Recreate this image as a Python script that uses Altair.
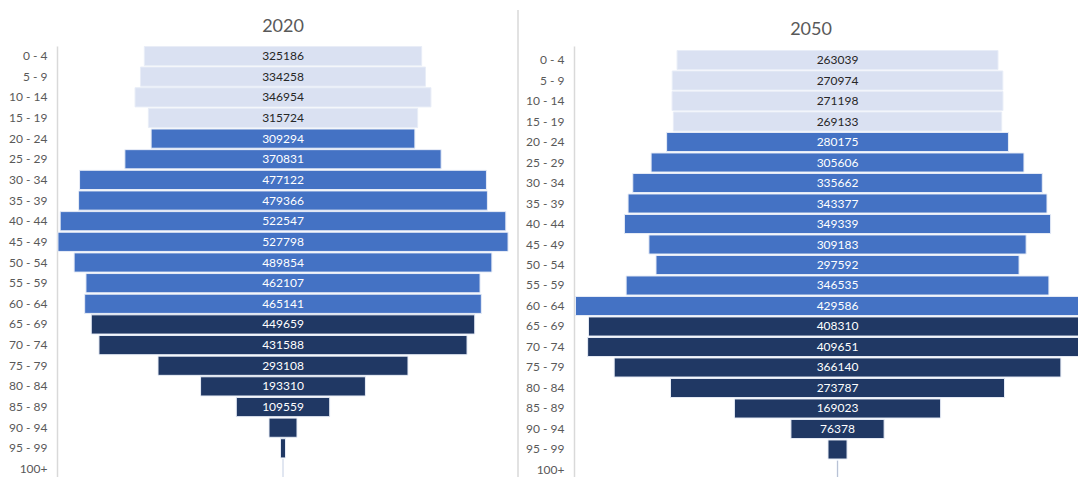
import altair as alt
import pandas as pd

ages = ["0 - 4", "5 - 9", "10 - 14", "15 - 19", "20 - 24", "25 - 29", "30 - 34",
        "35 - 39", "40 - 44", "45 - 49", "50 - 54", "55 - 59", "60 - 64", "65 - 69",
        "70 - 74", "75 - 79", "80 - 84", "85 - 89", "90 - 94", "95 - 99", "100+"]
pop_2020 = [325186, 334258, 346954, 315724, 309294, 370831, 477122, 479366, 522547,
            527798, 489854, 462107, 465141, 449659, 431588, 293108, 193310, 109559,
            32800, 5900, 900]
pop_2050 = [263039, 270974, 271198, 269133, 280175, 305606, 335662, 343377, 349339,
            309183, 297592, 346535, 429586, 408310, 409651, 366140, 273787, 169023,
            76378, 15600, 800]
groups = ["0-19"] * 4 + ["20-64"] * 9 + ["65+"] * 8
group_names = ["0-19", "20-64", "65+"]
group_colors = ["#DAE1F2", "#4472C4", "#203864"]

FONT = "Lato"


def panel(year, values, width, height, domain, pad_outer, title_offset, title_dx):
    df = pd.DataFrame({"age": ages, "value": values, "group": groups})
    base = alt.Chart(df).transform_calculate(lo="-datum.value/2", hi="datum.value/2")
    xscale = alt.Scale(domain=domain, nice=False, zero=False)
    y = alt.Y("age:N", sort=ages, title=None,
              scale=alt.Scale(paddingInner=0.07, paddingOuter=pad_outer),
              axis=alt.Axis(ticks=False, labelPadding=10, domainColor="#d9d9d9",
                            domainWidth=1.5, labelColor="#595959", labelFont=FONT,
                            labelFontSize=12, grid=False))
    bars = base.mark_bar(clip=True, stroke="#e8edf7", strokeWidth=1).encode(
        x=alt.X("lo:Q", scale=xscale, axis=None),
        x2="hi:Q",
        y=y,
        color=alt.Color("group:N", scale=alt.Scale(domain=group_names, range=group_colors),
                        legend=None),
    )
    text = base.transform_filter("datum.value >= 50000").mark_text(
        font=FONT, fontSize=12).encode(
        x=alt.datum(0, type="quantitative"),
        y=alt.Y("age:N", sort=ages),
        text="value:Q",
        color=alt.condition("datum.group == '0-19'", alt.value("#262626"), alt.value("#ffffff")),
    )
    return alt.layer(bars, text).properties(
        width=width, height=height,
        title=alt.TitleParams(year, fontSize=18, color="#595959", font=FONT,
                              fontWeight="normal", offset=title_offset, dx=title_dx),
    )


left = panel("2020", pop_2020, 452, 433, [-265000, 265000], 0.02, 10, 0)

sep = alt.Chart(pd.DataFrame({"a": [0]})).mark_rule(
    color="#d9d9d9", strokeWidth=1.5).encode(
    x=alt.value(0), y=alt.value(-36), y2=alt.value(440)).properties(width=47, height=433)

right = panel("2050", pop_2050, 504, 438, [-216000, 197100], 0.218, 7, -15)

chart = alt.hconcat(left, sep, right, spacing=9, bounds="flush").properties(
    padding=0
).configure_view(stroke="transparent")

chart.save("out.html", embed_options={"renderer": "svg", "actions": False})
